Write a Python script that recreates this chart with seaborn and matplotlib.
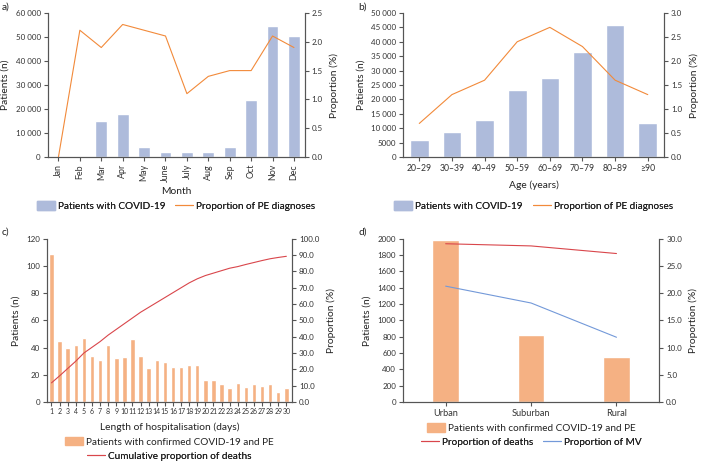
import matplotlib
matplotlib.use("Agg")
import matplotlib.pyplot as plt
from matplotlib.patches import Patch
from matplotlib.lines import Line2D
from matplotlib.ticker import FuncFormatter, MultipleLocator
import seaborn as sns
import numpy as np

# panel a: by month
months = ["Jan", "Feb", "Mar", "Apr", "May", "June", "July", "Aug", "Sep", "Oct", "Nov", "Dec"]
month_patients = [0, 500, 15000, 18000, 4000, 2000, 2000, 2200, 4200, 23800, 54500, 50200]
month_pe_prop = [0.0, 2.2, 1.9, 2.3, 2.2, 2.1, 1.1, 1.4, 1.5, 1.5, 2.1, 1.9]

# panel b: by age group
age_groups = ["20\u201329", "30\u201339", "40\u201349", "50\u201359", "60\u201369", "70\u201379", "80\u201389", "\u226590"]
age_patients = [5800, 8800, 12700, 23300, 27600, 36400, 45800, 11700]
age_pe_prop = [0.7, 1.3, 1.6, 2.4, 2.7, 2.3, 1.6, 1.3]

# panel c: length of hospitalisation
days = [str(d) for d in range(1, 31)]
day_patients = [109, 45, 40, 42, 47, 34, 31, 42, 32, 33, 46, 34, 25, 31, 29.5,
                25.5, 25.5, 27, 27, 16, 16, 13.5, 10, 14, 11, 13.5, 12, 13, 7, 10]
day_cum_deaths = [11.7, 16, 20.5, 25, 30, 33.5, 37, 41, 44.5, 48, 51.5, 55, 58, 61, 64,
                  67, 70, 73, 75.5, 77.5, 79, 80.5, 82, 83, 84.3, 85.5, 86.7, 87.8, 88.6, 89.3]

# panel d: by area
areas = ["Urban", "Suburban", "Rural"]
area_patients = [1980, 815, 545]
area_deaths = [29.1, 28.7, 27.3]
area_mv = [21.3, 18.2, 11.9]

BLUE_BAR = "#aebbdb"
ORANGE_LINE = "#f28a3a"
ORANGE_BAR = "#f5b183"
RED_LINE = "#d9464b"
BLUE_LINE = "#7399d9"
SPINE = "#555555"

sns.set_theme(style="ticks")
plt.rcParams["font.family"] = ["Lato", "DejaVu Sans"]
plt.rcParams["axes.edgecolor"] = SPINE
plt.rcParams["xtick.color"] = SPINE
plt.rcParams["ytick.color"] = SPINE
plt.rcParams["xtick.labelcolor"] = "#333333"
plt.rcParams["ytick.labelcolor"] = "#333333"
plt.rcParams["text.color"] = "#222222"
plt.rcParams["axes.labelcolor"] = "#222222"
plt.rcParams["axes.linewidth"] = 0.8

TICK_FS = 5.8
LABEL_FS = 7.4
LEG_FS = 7.2
LW = 0.8


def thousands(v, pos):
    v = int(round(v))
    if v >= 10000:
        return f"{v:,}".replace(",", " ")
    return str(v)


def dual_panel(rect, cats, bars, bar_color, width, ymax, ystep, rmax, rstep, lines, xlabel=None):
    ax = fig.add_axes(rect)
    sns.barplot(x=cats, y=bars, color=bar_color, saturation=1, width=width, ax=ax)
    ax2 = ax.twinx()
    for vals, col in lines:
        sns.lineplot(x=np.arange(len(cats)), y=vals, color=col, linewidth=LW, ax=ax2)
    ax.set_xlim(-0.5, len(cats) - 0.5)
    ax.set_ylim(0, ymax)
    ax.yaxis.set_major_locator(MultipleLocator(ystep))
    ax.yaxis.set_major_formatter(FuncFormatter(thousands))
    ax2.set_ylim(0, rmax)
    ax2.yaxis.set_major_locator(MultipleLocator(rstep))
    ax2.yaxis.set_major_formatter(FuncFormatter(lambda v, p: f"{v:.1f}"))
    for a in (ax, ax2):
        a.spines["top"].set_visible(False)
        a.tick_params(labelsize=TICK_FS, length=3, width=0.8, pad=2)
    ax.set_ylabel("Patients (n)", fontsize=LABEL_FS, labelpad=4)
    ax2.set_ylabel("Proportion (%)", fontsize=LABEL_FS, labelpad=5)
    ax.set_xlabel(xlabel if xlabel else "", fontsize=LABEL_FS, labelpad=5)
    return ax, ax2


def legend(ax, handles, y, ncol):
    leg = ax.legend(handles=handles, loc="center", bbox_to_anchor=(0.5, y), ncol=ncol,
                    frameon=False, fontsize=LEG_FS, handlelength=1.8, handleheight=0.9,
                    handletextpad=0.3, columnspacing=1.0, borderaxespad=0)
    ax.add_artist(leg)


fig = plt.figure(figsize=(7.02, 4.62), dpi=100)

# a)
ax, ax2 = dual_panel([0.068, 0.660, 0.366, 0.312], months, month_patients, BLUE_BAR, 0.55,
                     60000, 10000, 2.5, 0.5, [(month_pe_prop, ORANGE_LINE)], "Month")
ax.tick_params(axis="x", labelrotation=90, labelsize=6.4)
ax.set_xlabel("Month", fontsize=LABEL_FS, labelpad=3)
legend(ax, [Patch(color=BLUE_BAR, label="Patients with COVID-19"),
            Line2D([], [], color=ORANGE_LINE, lw=LW, label="Proportion of PE diagnoses")], -0.34, 2)

# b)
ax, ax2 = dual_panel([0.574, 0.660, 0.372, 0.312], age_groups, age_patients, BLUE_BAR, 0.57,
                     50000, 5000, 3.0, 0.5, [(age_pe_prop, ORANGE_LINE)], "Age (years)")
ax.tick_params(axis="x", labelsize=6.2)
legend(ax, [Patch(color=BLUE_BAR, label="Patients with COVID-19"),
            Line2D([], [], color=ORANGE_LINE, lw=LW, label="Proportion of PE diagnoses")], -0.34, 2)

# c)
ax, ax2 = dual_panel([0.067, 0.130, 0.349, 0.353], days, day_patients, ORANGE_BAR, 0.55,
                     120, 20, 100, 10, [(day_cum_deaths, RED_LINE)], "Length of hospitalisation (days)")
ax.set_xlim(-0.55, 29.7)
ax.tick_params(axis="x", labelsize=5.0, pad=1.5)
legend(ax, [Patch(color=ORANGE_BAR, label="Patients with confirmed COVID-19 and PE")], -0.245, 1)
legend(ax, [Line2D([], [], color=RED_LINE, lw=LW, label="Cumulative proportion of deaths")], -0.33, 1)

# d)
ax, ax2 = dual_panel([0.574, 0.130, 0.365, 0.353], areas, area_patients, ORANGE_BAR, 0.31,
                     2000, 200, 30, 5, [(area_deaths, RED_LINE), (area_mv, BLUE_LINE)])
ax.tick_params(axis="x", labelsize=6.6)
legend(ax, [Patch(color=ORANGE_BAR, label="Patients with confirmed COVID-19 and PE")], -0.16, 1)
legend(ax, [Line2D([], [], color=RED_LINE, lw=LW, label="Proportion of deaths"),
            Line2D([], [], color=BLUE_LINE, lw=LW, label="Proportion of MV")], -0.245, 2)

for label, (x, y) in {"a)": (0.003, 0.985), "b)": (0.510, 0.985),
                      "c)": (0.003, 0.497), "d)": (0.510, 0.497)}.items():
    fig.text(x, y, label, fontsize=LABEL_FS, va="center", ha="left")

fig.savefig("out.png", dpi=100)
